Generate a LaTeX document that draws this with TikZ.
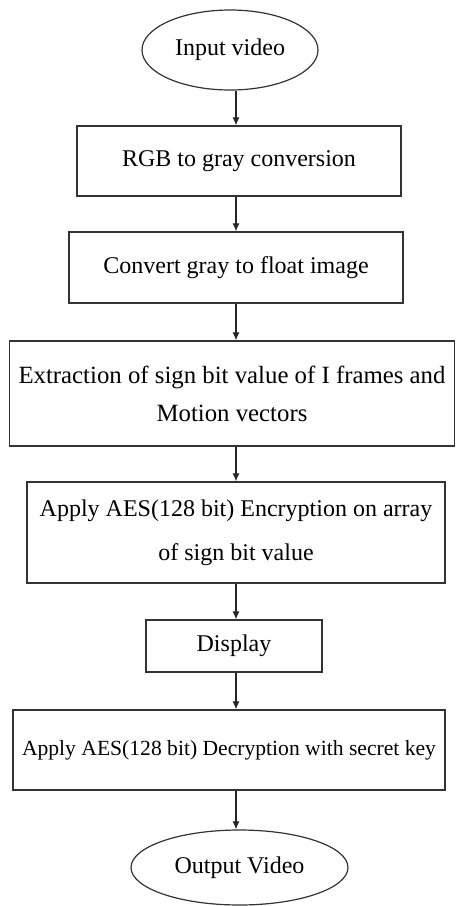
\documentclass[tikz,border=0pt]{standalone}
\usepackage{fontspec}
\setmainfont{Liberation Serif}
\usepackage{tikz}
\usetikzlibrary{shapes.geometric}
\usetikzlibrary{positioning}
\usetikzlibrary{%
  calc,%
  arrows.meta%
}

\tikzset{
  blk/.style={draw=black!80, line width=1.3pt, rectangle, inner sep=0pt, align=center,
              font=\fontsize{24}{39}\selectfont},
  term/.style={draw=black!80, line width=1.2pt, ellipse, inner sep=0pt,
               font=\fontsize{24}{28}\selectfont}
}

\begin{document}
\begin{tikzpicture}[x=1pt,y=-1pt]
\useasboundingbox (0,0) rectangle (456,906);
\coordinate (ax) at (236,0);
\node[term, minimum width=176, minimum height=80] (in) at (230,50) {Input video};
\node[blk, minimum width=324, minimum height=70] (rgb) at (239,161) {RGB to gray conversion};
\node[blk, minimum width=334, minimum height=71] (flt) at (236,267.5) {Convert gray to float image};
\node[blk, minimum width=445, minimum height=105, font=\fontsize{24.8}{38}\selectfont] (ext) at (232,393.5)
  {Extraction of sign bit value of I frames and\\Motion vectors};
\node[blk, minimum width=418, minimum height=101, font=\fontsize{24}{44}\selectfont] (enc) at (236,532.5)
  {Apply AES(128 bit) Encryption on array\\of sign bit value};
\node[blk, minimum width=176, minimum height=52] (disp) at (234,646) {Display};
\node[blk, minimum width=432, minimum height=80, font=\fontsize{21.6}{26}\selectfont] (dec) at (229,750)
  {Apply AES(128 bit) Decryption with secret key};
\node[term, minimum width=217, minimum height=75] (out) at (239.5,867.5) {Output Video};

\path [-{Latex[length=8pt,width=7pt]}, line width=1.1pt, black!85]
  (in.south -| ax) edge (rgb.north -| ax)
  (rgb.south -| ax) edge (flt.north -| ax)
  (flt.south -| ax) edge (ext.north -| ax)
  (ext.south -| ax) edge (enc.north -| ax)
  (enc.south -| ax) edge (disp.north -| ax)
  (disp.south -| ax) edge (dec.north -| ax)
  (dec.south -| ax) edge (out.north -| ax)
  ;
\end{tikzpicture}
\end{document}
